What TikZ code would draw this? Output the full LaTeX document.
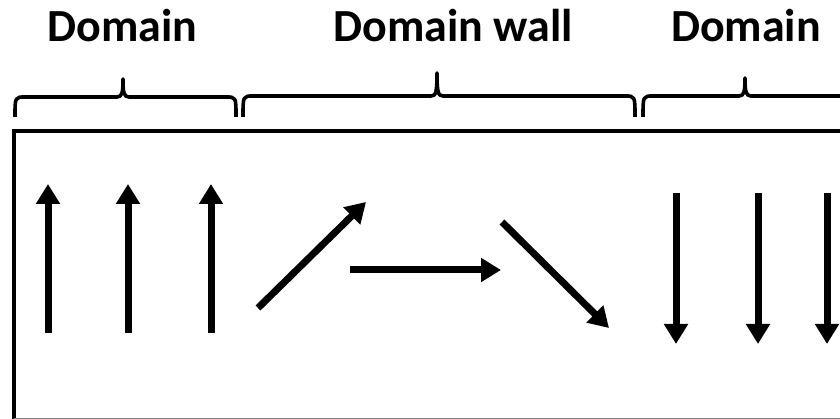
\documentclass[tikz,border=0pt]{standalone}
\usepackage{fontspec}
\setmainfont{Carlito}
\usetikzlibrary{arrows.meta}
\begin{document}
\begin{tikzpicture}[x=1pt,y=-1pt,
  spin/.style={line width=7pt,-{Triangle[width=23pt,length=20pt]}},
  bracepath/.style={line width=3.6pt,line join=round},
  lbl/.style={font=\fontsize{46}{50}\selectfont\bfseries,anchor=base,inner sep=0pt}]
\useasboundingbox (0,0) rectangle (840,419);
\clip (0,0) rectangle (840,419);
% labels
\node[lbl] (d1) at (122.5,42) {Domain};
\node[lbl] (dw) at (453,42) {Domain wall};
\node[lbl] (d2) at (746,42) {Domain};
% braces
\newcommand{\mybrace}[6]{%
 \draw[bracepath] (#1,#6) .. controls (#1,#4) .. (#1+10,#4) -- (#3-6,#4)
   .. controls (#3-1,#4) and (#3,#4-4) .. (#3,#5)
   .. controls (#3,#4-4) and (#3+1,#4) .. (#3+6,#4) -- (#2-10,#4)
   .. controls (#2,#4) .. (#2,#6);}
\mybrace{15}{236}{123}{97}{79}{117}
\mybrace{243}{635}{437}{96}{73}{117}
\mybrace{643}{860}{745}{96}{78}{117}
% box
\draw[line width=4pt] (14,440) -- (14,131) -- (860,131);
\draw[line width=1pt,gray] (14,418) -- (860,418);
% arrows
\coordinate (u1s) at (48,333); \coordinate (u1e) at (48,184);
\coordinate (u2s) at (128,333); \coordinate (u2e) at (128,184);
\coordinate (u3s) at (211,333); \coordinate (u3e) at (211,184);
\coordinate (a1s) at (258,308); \coordinate (a1e) at (366,202);
\coordinate (hs) at (350,270); \coordinate (he) at (501,270);
\coordinate (a2s) at (502,222); \coordinate (a2e) at (609,328);
\coordinate (d1s) at (676,193); \coordinate (d1e) at (676,344);
\coordinate (d2s) at (758,193); \coordinate (d2e) at (758,344);
\coordinate (d3s) at (827,193); \coordinate (d3e) at (827,344);
\foreach \a in {u1,u2,u3,a1,h,a2,d1,d2,d3}
  \draw[spin] (\a s) -- (\a e);
\end{tikzpicture}
\end{document}
